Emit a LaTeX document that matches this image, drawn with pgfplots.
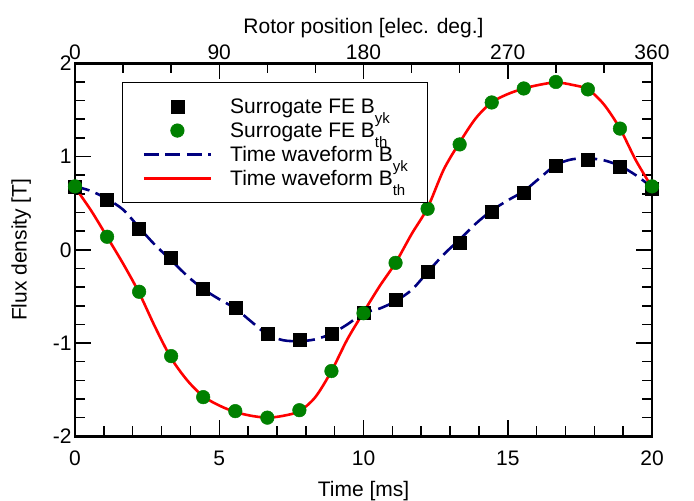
\documentclass[border=0pt]{standalone}
\usepackage{fontspec}
\setmainfont{Liberation Sans}
\usepackage{pgfplots}
\pgfplotsset{compat=1.18}

\definecolor{symGreen}{HTML}{008000}
\definecolor{navyLine}{HTML}{000080}
\definecolor{redLine}{HTML}{FF0000}
\newcommand\sub[1]{\raisebox{-0.45em}{\fontsize{15bp}{15bp}\selectfont #1}}
\newcommand\bigfont{\fontsize{21bp}{24bp}\selectfont}

\pgfplotsset{
  fluxstyle/.style={
    scale only axis, width=577bp, height=373bp,
    axis line style={line width=2.6bp},
    every tick/.style={line width=1.5bp, black},
    major tick length=16bp, minor tick length=10bp,
    tick align=inside,
    tick label style={font=\bigfont},
    label style={font=\bigfont},
    /pgf/number format/assume math mode=true,
  },
}

% surrogate FE samples, 20 elec. deg. apart
\pgfplotstableread{
t      byk     bth
0.000  0.68    0.68
1.111  0.54    0.14
2.222  0.23   -0.45
3.333 -0.09   -1.14
4.444 -0.42   -1.58
5.556 -0.62   -1.73
6.667 -0.90   -1.80
7.778 -0.965  -1.72
8.889 -0.90   -1.30
10.000 -0.68  -0.68
11.111 -0.54  -0.14
12.222 -0.24   0.44
13.333  0.08   1.13
14.444  0.41   1.58
15.556  0.61   1.73
16.667  0.90   1.80
17.778  0.965  1.72
18.889  0.89   1.30
20.000  0.66   0.68
}\fesamples

% time waveforms
\pgfplotstableread{
t      byk    bth
0.00   0.68   0.67
0.56   0.63   0.42
1.11   0.545  0.14
1.67   0.43  -0.15
2.22   0.24  -0.46
2.78   0.05  -0.83
3.33  -0.11  -1.16
3.89  -0.28  -1.40
4.44  -0.42  -1.57
5.00  -0.53  -1.67
5.56  -0.63  -1.74
6.11  -0.77  -1.78
6.67  -0.91  -1.80
7.22  -0.97  -1.78
7.78  -0.98  -1.73
8.33  -0.96  -1.58
8.89  -0.90  -1.30
9.44  -0.80  -0.96
10.00 -0.68  -0.67
10.56 -0.63  -0.39
11.11 -0.55  -0.14
11.67 -0.43   0.17
12.22 -0.24   0.45
12.78 -0.05   0.86
13.33  0.11   1.15
13.89  0.28   1.41
14.44  0.42   1.58
15.00  0.53   1.67
15.56  0.63   1.73
16.11  0.77   1.77
16.67  0.91   1.795
17.22  0.97   1.77
17.78  0.98   1.72
18.33  0.96   1.56
18.89  0.90   1.30
19.44  0.80   0.96
20.00  0.67   0.67
}\waveforms

\begin{document}
\begin{tikzpicture}
\begin{axis}[fluxstyle, name=main,
  xmin=0, xmax=20, ymin=-2, ymax=2,
  xtick={0,5,10,15,20}, minor x tick num=4, xtick pos=left,
  ytick={-2,-1,0,1,2}, minor y tick num=4, ytick pos=both, yticklabel pos=left,
  xticklabel shift=11bp, xlabel shift=9bp, ylabel shift=15bp,
  xlabel={Time [ms]}, ylabel={Flux density [T]},
  legend cell align=left,
  legend style={at={(0.0815,0.950)}, anchor=north west, draw=black,
    line width=1.2bp, fill=white, font=\bigfont,
    inner xsep=20bp, inner ysep=12bp,
    nodes={inner sep=0pt, text height=19bp, text depth=5bp},
    column sep=18bp, row sep=0pt},
  legend image code/.code={
    \draw[mark repeat=2, mark phase=2, #1] plot coordinates {(0bp,0bp) (33.5bp,0bp) (67bp,0bp)};},
]
\addplot[only marks, mark=square*, mark size=6.5bp, black, fill=black, line width=0.5bp]
  table[x=t, y=byk] {\fesamples};
\addlegendentry{Surrogate FE B\sub{yk}}
\addplot[only marks, mark=*, mark size=6.8bp, draw=symGreen, fill=symGreen, line width=0.5bp]
  table[x=t, y=bth] {\fesamples};
\addlegendentry{Surrogate FE B\sub{th}}
\addplot[navyLine, line width=2.6bp, smooth, dash pattern=on 15bp off 6.5bp]
  table[x=t, y=byk] {\waveforms};
\addlegendentry{Time waveform B\sub{yk}}
\addplot[redLine, line width=2.6bp, smooth]
  table[x=t, y=bth] {\waveforms};
\addlegendentry{Time waveform B\sub{th}}
\end{axis}
\begin{axis}[fluxstyle, at={(main.south west)}, anchor=south west,
  xmin=0, xmax=360, ymin=-2, ymax=2,
  axis x line*=top, axis y line=none,
  xtick={0,90,180,270,360}, minor x tick num=2,
  xlabel={Rotor position [elec. deg.]}]
\addplot[draw=none] coordinates {(0,0) (360,0)};
\end{axis}
\pgfresetboundingbox
\path ([xshift=-75bp,yshift=-64.3bp]main.south west) rectangle ([xshift=42bp,yshift=63.3bp]main.north east);
\end{tikzpicture}
\end{document}
